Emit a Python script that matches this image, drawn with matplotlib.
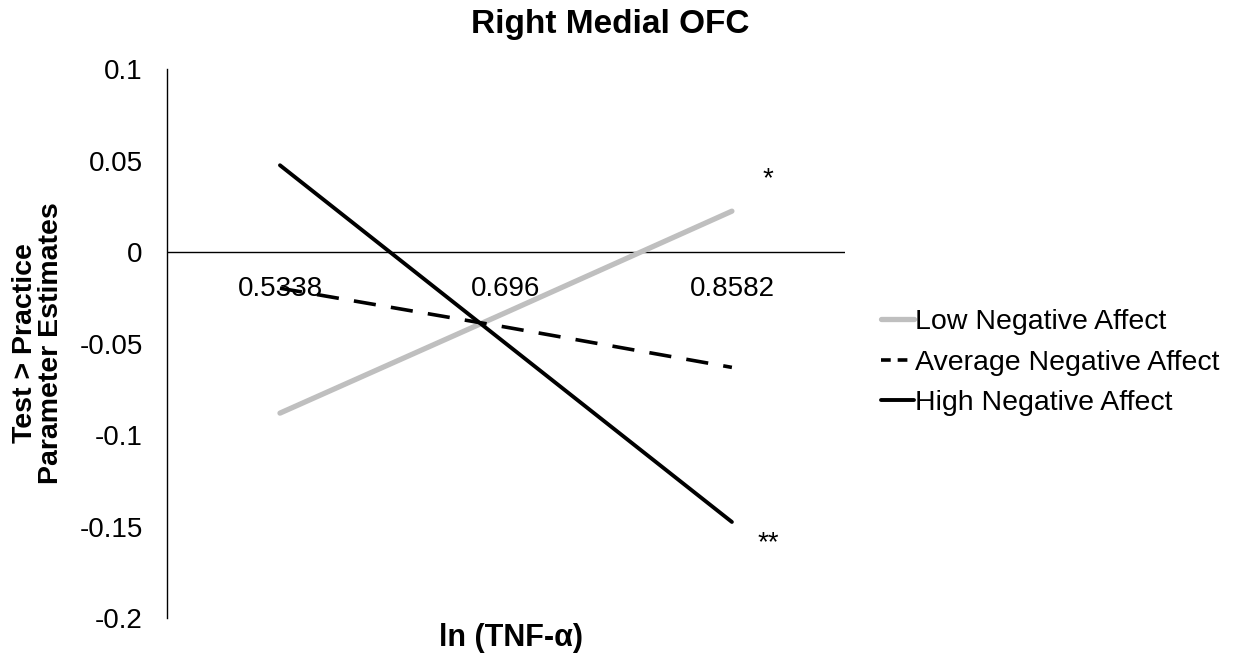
import numpy as np
import matplotlib
matplotlib.use("Agg")
import matplotlib.pyplot as plt

plt.rcParams['font.family'] = ['Liberation Sans', 'DejaVu Sans']
plt.rcParams['lines.scale_dashes'] = False

# simple slopes of ln(TNF-a) at three levels of negative affect
tnf_levels = ['0.5338', '0.696', '0.8582']
low_na = [-0.088, -0.033, 0.0224]
avg_na = [-0.0197, -0.041, -0.063]
high_na = [0.0475, -0.050, -0.1475]
series_labels = ['Low Negative Affect', 'Average Negative Affect', 'High Negative Affect']
sig_marks = {'*': 0.040, '**': -0.159}

fig = plt.figure(figsize=(12.37, 6.58), dpi=100)
ax = fig.add_axes([0.135, 0.0608, 0.548, 0.834])

x = np.arange(len(tnf_levels))
ax.plot(x, low_na, color='#bfbfbf', lw=3.8, solid_capstyle='round', label=series_labels[0])
ax.plot(x, avg_na, color='black', lw=2.6, dashes=(16, 11), label=series_labels[1])
ax.plot(x, high_na, color='black', lw=2.8, solid_capstyle='round', label=series_labels[2])

ax.axhline(0, color='black', lw=1.0, zorder=0)
ax.set_xlim(-0.5, 2.5)
ax.set_ylim(-0.2, 0.1)
ax.set_yticks(np.arange(-0.2, 0.101, 0.05))
ax.set_yticklabels(['-0.2', '-0.15', '-0.1', '-0.05', '0', '0.05', '0.1'])
ax.tick_params(axis='y', length=0, labelsize=20, pad=17.5)
ax.set_xticks([])
for s in ('top', 'right', 'bottom'):
    ax.spines[s].set_visible(False)
ax.spines['left'].set_linewidth(1.0)

# category labels sit right under the zero line
for i, lab in enumerate(tnf_levels):
    ax.annotate(lab, (i, 0), xytext=(0, -17.5), textcoords='offset points',
                ha='center', va='top', fontsize=20)

for mark, yv in sig_marks.items():
    ax.annotate(mark, (2, yv), xytext=(26, 0), textcoords='offset points',
                ha='center', va='center', fontsize=20)

leg = ax.legend(loc='center left', bbox_to_anchor=(0.6915, 0.449),
                bbox_transform=fig.transFigure, frameon=False, fontsize=20.5,
                handlelength=1.15, handletextpad=0.05, labelspacing=0.5)
# shorter dashes in the legend sample so two of them fit
leg.get_lines()[1].set_dashes((7, 5))

fig.text(610 / 1237, 1 - 25 / 658, 'Right Medial OFC', ha='center', va='center',
         fontsize=24, fontweight='bold')
fig.text(511 / 1237, 1 - 638 / 658, 'ln (TNF-α)', ha='center', va='center',
         fontsize=22, fontweight='bold')
fig.text(38 / 1237, 1 - 343 / 658, 'Test > Practice\nParameter Estimates',
         ha='center', va='center', rotation=90, fontsize=20.5, fontweight='bold',
         multialignment='center', linespacing=1.0)

fig.savefig('out.png', dpi=100)
